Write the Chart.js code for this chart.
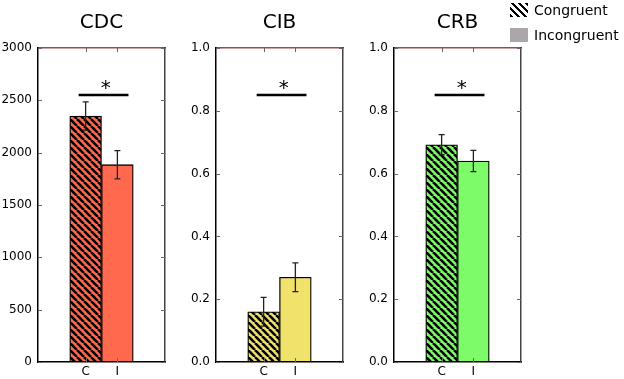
<!DOCTYPE html>
<html>
<head>
<meta charset="utf-8">
<script src="https://cdn.jsdelivr.net/npm/chart.js@4/dist/chart.umd.min.js"></script>
<style>
  body { margin: 0; background: #fff; width: 624px; height: 379px; position: relative; overflow: hidden; font-family: "DejaVu Sans", sans-serif; }
  canvas { position: absolute; top: 0; }
  #legend { position: absolute; left: 510px; top: 3px; font-size: 14px; color: #000; }
  .row { display: flex; align-items: center; height: 14px; margin-bottom: 11px; }
  .sw { width: 18px; height: 14px; margin-right: 6px; }
  .hatch { background: repeating-linear-gradient(45deg, #000 0 2.6px, #fff 2.6px 5px); }
  .grey { background: #aaa6a9; }
</style>
</head>
<body>
<canvas id="cdc" width="203" height="379" style="left:0px"></canvas>
<canvas id="cib" width="203" height="379" style="left:178px"></canvas>
<canvas id="crb" width="203" height="379" style="left:356px"></canvas>
<div id="legend">
  <div class="row"><div class="sw hatch"></div>Congruent</div>
  <div class="row"><div class="sw grey"></div>Incongruent</div>
</div>
<script>
// Données
const categories = ['C', 'I'];
const titles = ['CDC', 'CIB', 'CRB'];
const cdcMeans = [2350, 1885];
const cdcErr = [135, 135];
const cibMeans = [0.16, 0.27];
const cibErr = [0.046, 0.046];
const crbMeans = [0.692, 0.64];
const crbErr = [0.032, 0.034];
const yMax = [3000, 1, 1];
const yStep = [500, 0.2, 0.2];
const sigLevel = [2550, 0.85, 0.85];
const colors = ['#ff6a4f', '#f0e26a', '#7dfb68'];

// motif hachuré (\\\) sur la couleur de la barre
function hatch(color) {
    const n = 7;
    const c = document.createElement('canvas');
    c.width = n; c.height = n;
    const g = c.getContext('2d');
    g.fillStyle = color;
    g.fillRect(0, 0, n, n);
    g.strokeStyle = '#000';
    g.lineWidth = 2.6;
    for (let k = -1; k <= 1; k++) {
        g.beginPath();
        g.moveTo(k * n, 0);
        g.lineTo(k * n + n, n);
        g.stroke();
    }
    return g.createPattern(c, 'repeat');
}

// barres d'erreur, trait de significativité et petits ticks vers l'intérieur
const extras = {
    id: 'extras',
    afterDatasetsDraw(chart, args, opts) {
        const ctx = chart.ctx;
        const x = chart.scales.x, y = chart.scales.y;
        const meta = chart.getDatasetMeta(0);
        const area = chart.chartArea;
        ctx.save();
        // ticks
        ctx.lineWidth = 1;
        ctx.strokeStyle = '#666';
        y.ticks.forEach(t => {
            const py = Math.round(y.getPixelForValue(t.value)) + 0.5;
            ctx.beginPath();
            ctx.moveTo(area.left, py); ctx.lineTo(area.left + 4, py);
            ctx.moveTo(area.right, py); ctx.lineTo(area.right - 4, py);
            ctx.stroke();
        });
        [1, 2].forEach(i => {
            const px = Math.round(x.getPixelForValue(i)) + 0.5;
            ctx.beginPath();
            ctx.moveTo(px, area.top); ctx.lineTo(px, area.top + 4);
            ctx.moveTo(px, area.bottom); ctx.lineTo(px, area.bottom - 4);
            ctx.stroke();
        });
        // erreurs
        ctx.strokeStyle = '#222';
        ctx.lineWidth = 1.3;
        opts.means.forEach((m, i) => {
            const bar = meta.data[i + 1];
            const top = y.getPixelForValue(m + opts.err[i]);
            const bot = y.getPixelForValue(m - opts.err[i]);
            ctx.beginPath();
            ctx.moveTo(bar.x, top); ctx.lineTo(bar.x, bot);
            ctx.moveTo(bar.x - 3, top); ctx.lineTo(bar.x + 3, top);
            ctx.moveTo(bar.x - 3, bot); ctx.lineTo(bar.x + 3, bot);
            ctx.stroke();
        });
        // significativité
        const ly = y.getPixelForValue(opts.sig);
        ctx.strokeStyle = '#000';
        ctx.lineWidth = 2.5;
        ctx.beginPath();
        ctx.moveTo(x.getPixelForValue(0.78), ly);
        ctx.lineTo(x.getPixelForValue(2.35), ly);
        ctx.stroke();
        ctx.fillStyle = '#000';
        ctx.font = '20px "DejaVu Sans"';
        ctx.textAlign = 'center';
        ctx.textBaseline = 'alphabetic';
        ctx.fillText('*', x.getPixelForValue(1.63), ly - 1);
        ctx.restore();
    }
};

function makePanel(id, idx, means, err) {
    const ctx = document.getElementById(id).getContext('2d');
    const labels = ['', ...categories, ''];
    new Chart(ctx, {
        type: 'bar',
        data: {
            labels: labels,
            datasets: [{
                data: [null, ...means, null],
                backgroundColor: ['#fff', hatch(colors[idx]), colors[idx], '#fff'],
                borderColor: '#000',
                borderWidth: 1.3,
                borderSkipped: false,
                categoryPercentage: 1,
                barPercentage: 1
            }]
        },
        plugins: [extras],
        options: {
            responsive: false,
            animation: false,
            layout: { padding: 0 },
            plugins: {
                legend: { display: false },
                tooltip: { enabled: false },
                title: {
                    display: true,
                    text: titles[idx],
                    color: '#000',
                    font: { family: 'DejaVu Sans', size: 20, weight: 'normal', lineHeight: 1.2 },
                    padding: { top: 11, bottom: 13 }
                },
                extras: { means: means, err: err, sig: sigLevel[idx] }
            },
            scales: {
                x: {
                    position: 'bottom',
                    grid: { display: false, drawTicks: false },
                    border: { color: '#000', width: 1.5 },
                    ticks: {
                        color: '#000',
                        font: { family: 'DejaVu Sans', size: 12 },
                        padding: 3,
                        autoSkip: false,
                        maxRotation: 0,
                        callback: function(v) { return this.getLabelForValue(v); }
                    },
                    afterFit: s => { s.height = 17; }
                },
                x2: {
                    position: 'top',
                    display: true,
                    type: 'category',
                    labels: labels,
                    grid: { display: false, drawTicks: false },
                    border: { color: '#a04848', width: 1.5 },
                    ticks: { display: false },
                    afterFit: s => { s.height = 0; }
                },
                y: {
                    min: 0,
                    max: yMax[idx],
                    grid: { display: false, drawTicks: false },
                    border: { color: '#000', width: 1.5 },
                    ticks: {
                        stepSize: yStep[idx],
                        color: '#000',
                        padding: 6,
                        font: { family: 'DejaVu Sans', size: 12 },
                        callback: v => yMax[idx] === 1 ? v.toFixed(1) : v
                    },
                    afterFit: s => { s.width = 38; }
                },
                y2: {
                    position: 'right',
                    display: true,
                    min: 0,
                    max: yMax[idx],
                    grid: { display: false, drawTicks: false },
                    border: { color: '#444', width: 1.5 },
                    ticks: { display: false },
                    afterFit: s => { s.width = 38; }
                }
            }
        }
    });
}

makePanel('cdc', 0, cdcMeans, cdcErr);
makePanel('cib', 1, cibMeans, cibErr);
makePanel('crb', 2, crbMeans, crbErr);
</script>
</body>
</html>
